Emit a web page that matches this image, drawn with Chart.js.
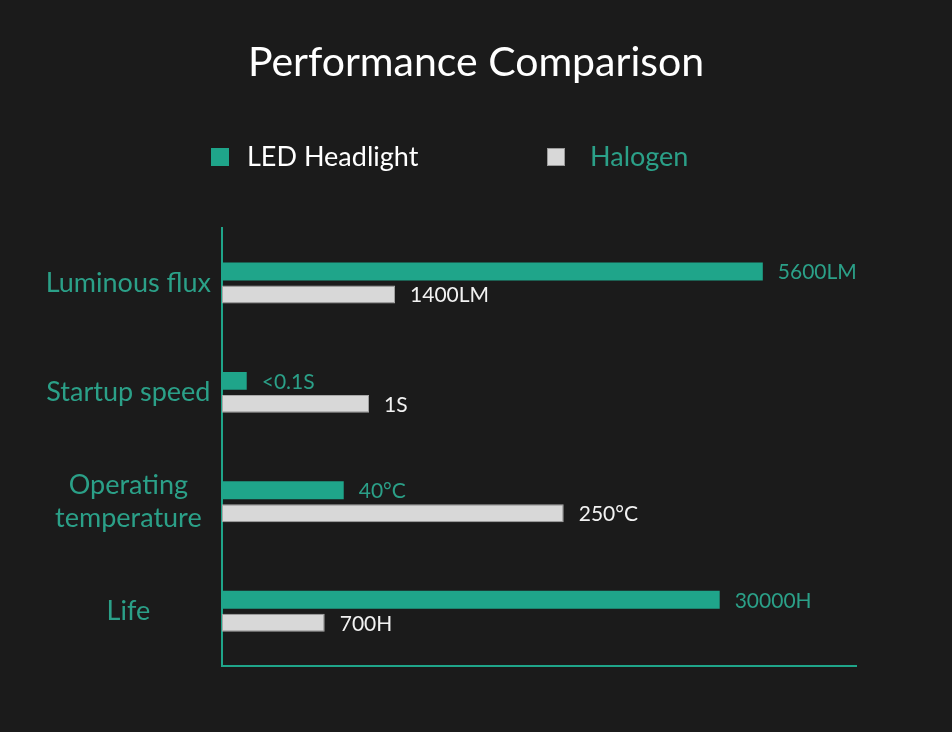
<!DOCTYPE html>
<html>
<head>
<meta charset="utf-8">
<script src="https://cdn.jsdelivr.net/npm/chart.js@4.4.1/dist/chart.umd.min.js"></script>
<style>
  html, body { margin: 0; padding: 0; background: #1b1b1b; }
  #wrap { width: 952px; height: 732px; }
</style>
</head>
<body>
<div id="wrap"><canvas id="canvas" width="952" height="732"></canvas></div>
<script>
// colours
let green = "#1fa58a";
let greenText = "#2ba088";
let grey = "#d8d8d8";

// data (bar length in % of axis, plus the printed values)
var categories = ["Luminous flux", "Startup speed", ["Operating", "temperature"], "Life"];
var ledValues = [85.3, 3.9, 19.2, 78.5];
var halogenValues = [27.3, 23.2, 53.9, 16.2];
var ledLabels = ["5600LM", "<0.1S", "40°C", "30000H"];
var halogenLabels = ["1400LM", "1S", "250°C", "700H"];
var seriesNames = ["LED Headlight", "Halogen"];

const FONT = "Lato, 'Open Sans', sans-serif";

// value text at the end of each bar
const valueLabels = {
  id: "valueLabels",
  afterDatasetsDraw(chart) {
    const ctx = chart.ctx;
    const texts = [ledLabels, halogenLabels];
    const colors = [greenText, "#f2f2f2"];
    ctx.save();
    ctx.font = "21px " + FONT;
    ctx.textBaseline = "middle";
    ctx.textAlign = "left";
    chart.data.datasets.forEach((ds, i) => {
      chart.getDatasetMeta(i).data.forEach((bar, j) => {
        ctx.fillStyle = colors[i];
        ctx.fillText(texts[i][j], bar.x + 15, bar.y + 1);
      });
    });
    ctx.restore();
  },
};

// legend drawn by hand, the two items sit far apart
const spreadLegend = {
  id: "spreadLegend",
  afterDraw(chart) {
    const ctx = chart.ctx;
    const items = [
      { box: 211, text: 247, fill: green, stroke: green, color: "#ffffff" },
      { box: 547, text: 590, fill: grey, stroke: "#9a9a9a", color: greenText },
    ];
    ctx.save();
    ctx.font = "27px " + FONT;
    ctx.textBaseline = "middle";
    items.forEach((it, i) => {
      ctx.fillStyle = it.fill;
      ctx.fillRect(it.box, 148, 18, 18);
      ctx.strokeStyle = it.stroke;
      ctx.lineWidth = 1;
      ctx.strokeRect(it.box + 0.5, 148.5, 17, 17);
      ctx.fillStyle = it.color;
      ctx.fillText(chart.data.datasets[i].label, it.text, 157);
    });
    ctx.restore();
  },
};

const ctx = document.getElementById("canvas").getContext("2d");
const myChart = new Chart(ctx, {
  type: "bar",
  data: {
    labels: categories,
    datasets: [
      {
        label: seriesNames[0],
        data: ledValues,
        backgroundColor: green,
        borderColor: green,
        borderWidth: 0,
        categoryPercentage: 0.42,
        barPercentage: 0.78,
      },
      {
        label: seriesNames[1],
        data: halogenValues,
        backgroundColor: grey,
        borderColor: "#a8a8a8",
        borderWidth: 1,
        borderSkipped: false,
        categoryPercentage: 0.42,
        barPercentage: 0.78,
      },
    ],
  },
  options: {
    indexAxis: "y",
    responsive: false,
    animation: false,
    layout: { padding: { left: 0, right: 0, top: 0, bottom: 66 } },
    plugins: {
      legend: { display: false },
      tooltip: { enabled: false },
      title: {
        display: true,
        text: "Performance Comparison",
        color: "#ffffff",
        font: { family: FONT, size: 41, weight: "normal" },
        padding: { top: 38, bottom: 141 },
      },
    },
    scales: {
      x: {
        min: 0,
        max: 100,
        grid: { display: false, drawTicks: false },
        ticks: { display: false },
        border: { display: true, color: green, width: 2 },
      },
      y: {
        grid: { display: false, drawTicks: false },
        border: { display: true, color: green, width: 2 },
        ticks: {
          color: greenText,
          padding: 11,
          crossAlign: "center",
          font: { family: FONT, size: 27, lineHeight: 1.22 },
        },
        afterFit(scale) {
          scale.width = 222;
        },
      },
      // empty right axis, keeps the room on the right so the title stays centred
      yRight: {
        type: "category",
        position: "right",
        grid: { display: false, drawTicks: false },
        border: { display: false },
        ticks: { display: false },
        afterFit(scale) {
          scale.width = 96;
        },
      },
    },
  },
  plugins: [valueLabels, spreadLegend],
});
</script>
</body>
</html>
